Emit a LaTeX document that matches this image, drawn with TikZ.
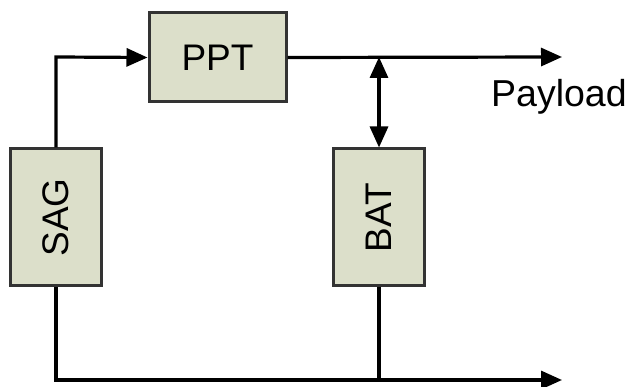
\documentclass[tikz,border=0pt]{standalone}
\usepackage{fontspec}
\setmainfont{Liberation Sans}
\usetikzlibrary{arrows.meta}
\definecolor{boxfill}{HTML}{DCDFCA}
\definecolor{boxedge}{HTML}{333333}
\begin{document}
\begin{tikzpicture}[x=1pt,y=-1pt,
  block/.style={draw=boxedge, fill=boxfill, line width=3pt, inner sep=0pt,
    font=\fontsize{37}{40}\selectfont},
  wire/.style={line width=3.2pt, black},
  tip/.style={-{Triangle[length=21pt,width=18pt]}},
  dtip/.style={{Triangle[length=21pt,width=18pt]}-{Triangle[length=21pt,width=18pt]}}]
  \useasboundingbox (0,0) rectangle (629,387);
  % converter, array and battery blocks
  \node[block, minimum width=137pt, minimum height=89pt] (ppt) at (217.5,57.5) {PPT};
  \node[block, minimum width=91pt, minimum height=137pt] (sag) at (56,217.5) {\rotatebox{90}{SAG}};
  \node[block, minimum width=91pt, minimum height=137pt] (bat) at (379,217.5) {\rotatebox{90}{BAT}};
  \node[anchor=west, inner sep=0pt, font=\fontsize{37.5}{40}\selectfont] (load) at (491,97) {Payload};
  % bus nodes
  \coordinate (sagup) at (56,57);
  \coordinate (busout) at (562,57);
  \coordinate (tap) at (379,57);
  \coordinate (sagdn) at (56,380);
  \coordinate (batdn) at (379,380);
  \coordinate (gndout) at (562,380);
  % connections
  \draw[wire, tip] (sag.north) -- (sagup) -- (ppt.west);
  \draw[wire, tip] (ppt.east) -- (busout);
  \draw[wire, dtip] (tap) -- (bat.north);
  \draw[wire, tip] (sag.south) -- (sagdn) -- (gndout);
  \draw[wire] (bat.south) -- (batdn);
\end{tikzpicture}
\end{document}
